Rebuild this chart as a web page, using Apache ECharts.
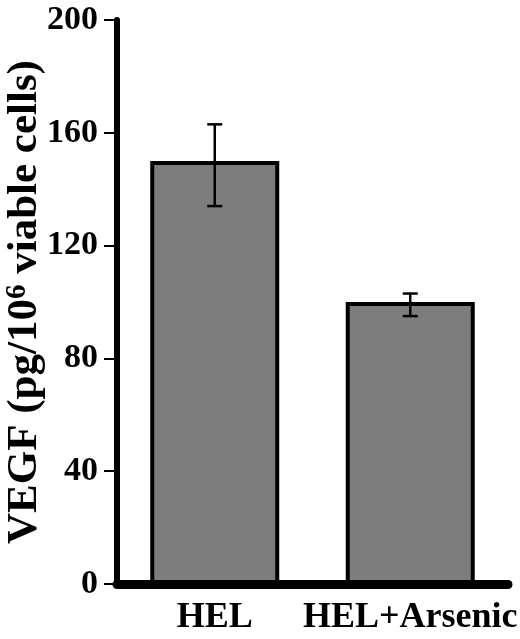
<!DOCTYPE html>
<html>
<head>
<meta charset="utf-8">
<script src="https://cdn.jsdelivr.net/npm/echarts@6/dist/echarts.min.js"></script>
<style>
html,body{margin:0;padding:0;background:#fff;}
#c{width:520px;height:639px;}
</style>
</head>
<body>
<div id="c"></div>
<script>
const categories = ['HEL', 'HEL+Arsenic'];
const means = [150, 100];
const errLow = [134, 95];
const errHigh = [163, 103];
const yTicks = [0, 40, 80, 120, 160, 200];

const FONT = '"Liberation Serif", "DejaVu Serif", serif';
const chart = echarts.init(document.getElementById('c'));

const errData = categories.map((c, i) => [i, errLow[i], errHigh[i]]);

chart.setOption({
  animation: false,
  backgroundColor: '#fff',
  grid: { left: 117, right: 12, top: 20, bottom: 55, containLabel: false, outerBoundsMode: 'none' },
  xAxis: {
    type: 'category',
    data: categories,
    axisLine: { lineStyle: { color: '#000', width: 9 } },
    axisTick: { alignWithLabel: true, length: 15, lineStyle: { color: '#000', width: 2 } },
    axisLabel: { interval: 0, color: '#000', fontFamily: FONT, fontWeight: 'bold', fontSize: 36, margin: 16, hideOverlap: false },
    splitLine: { show: false }
  },
  yAxis: {
    type: 'value',
    min: yTicks[0],
    max: yTicks[yTicks.length - 1],
    interval: yTicks[1] - yTicks[0],
    axisLine: { show: true, lineStyle: { color: '#000', width: 6 } },
    axisTick: { show: true, length: 13, lineStyle: { color: '#000', width: 2 } },
    axisLabel: { color: '#000', fontFamily: FONT, fontWeight: 'bold', fontSize: 34, margin: 19 },
    splitLine: { show: false },
    name: '{a|VEGF (pg/10}{s|6}{a| viable cells)}',
    nameLocation: 'middle',
    nameRotate: 90,
    nameGap: 92,
    nameMoveOverlap: false,
    nameTextStyle: {
      align: 'center',
      verticalAlign: 'middle',
      rich: {
        a: { fontFamily: FONT, fontWeight: 'bold', fontSize: 43, color: '#000', lineHeight: 46 },
        s: { fontFamily: FONT, fontWeight: 'bold', fontSize: 29, color: '#000', lineHeight: 46, padding: [0, 0, 14, 0] }
      }
    }
  },
  series: [
    {
      type: 'bar',
      data: means,
      barWidth: 129,
      itemStyle: { color: '#7d7d7d', borderColor: '#000', borderWidth: 4 }
    },
    {
      type: 'custom',
      data: errData,
      z: 5,
      renderItem: function (params, api) {
        const lo = api.coord([api.value(0), api.value(1)]);
        const hi = api.coord([api.value(0), api.value(2)]);
        const hw = 7.5;
        const st = { stroke: '#000', lineWidth: 2.5 };
        return {
          type: 'group',
          children: [
            { type: 'line', shape: { x1: lo[0], y1: lo[1], x2: hi[0], y2: hi[1] }, style: st },
            { type: 'line', shape: { x1: lo[0] - hw, y1: lo[1], x2: lo[0] + hw, y2: lo[1] }, style: st },
            { type: 'line', shape: { x1: hi[0] - hw, y1: hi[1], x2: hi[0] + hw, y2: hi[1] }, style: st }
          ]
        };
      }
    }
  ]
});
</script>
</body>
</html>
